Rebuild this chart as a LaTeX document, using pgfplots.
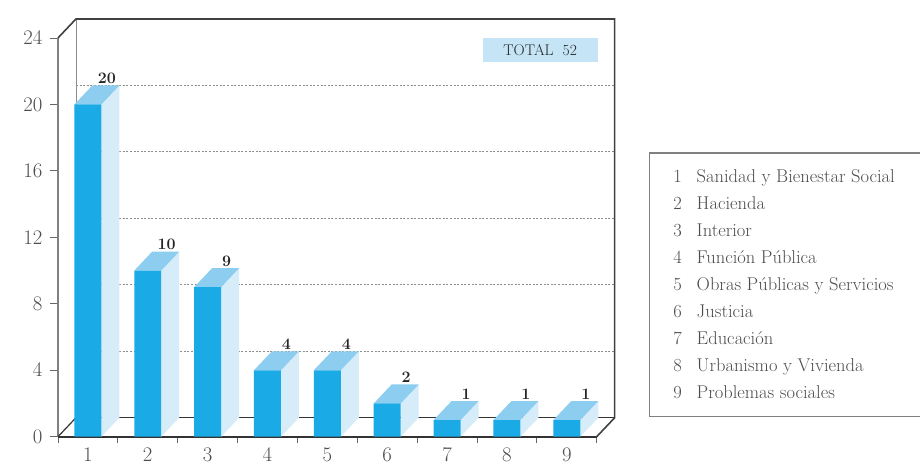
\documentclass[border=0pt]{standalone}
\usepackage{pgfplots}
\usepackage{pgfplotstable}
\pgfplotsset{compat=1.18}
\definecolor{frontc}{RGB}{26,170,230}
\definecolor{topc}{RGB}{140,205,240}
\definecolor{sidec}{RGB}{214,236,249}
\definecolor{totc}{RGB}{197,229,246}
\pgfplotstableread{
x v
1 20
2 10
3 9
4 4
5 4
6 2
7 1
8 1
9 1
}\datatable
\newcommand\legitem[3]{%
  \node[anchor=base, inner sep=0pt, font=\fontsize{18.5}{18.5}\selectfont, text=black!70] at (axis cs:10.851,#1) {#2};
  \node[anchor=base west, inner sep=0pt, font=\fontsize{18.5}{18.5}\selectfont, text=black!70] at (axis cs:11.168,#1) {#3};
}
\begin{document}
\begin{tikzpicture}
\begin{axis}[
  x=59.9pt, y=16.625pt,
  xmin=0.5, xmax=9.5, ymin=0, ymax=24,
  axis x line*=bottom, axis y line*=left,
  x axis line style={draw=black!80, line width=1.6pt},
  y axis line style={draw=black!50, line width=1.2pt},
  xtick={1,...,9}, minor xtick={0.5,1.5,...,9.5},
  major x tick style={draw=none},
  minor x tick style={draw=black!60, line width=0.8pt},
  ytick={0,4,...,24},
  y tick style={draw=black!60, line width=0.9pt},
  tick align=outside, major tick length=8pt, minor tick length=6pt,
  tick label style={font=\fontsize{20.5}{20.5}\selectfont, text=black!70},
  yticklabel style={xshift=-4pt},
  clip=false,
]
% bounding box of the whole picture
\path (axis cs:-0.4683,-1.744) rectangle (axis cs:14.907,26.286);
% back wall grid lines
\pgfplotsinvokeforeach{5.143,9.143,13.143,17.143,21.143}{
  \draw[black!45, dash pattern=on 2pt off 1.6pt, line width=0.9pt] (axis cs:0.8005,#1) -- (axis cs:9.8005,#1);
}
% floor back line and back-left edge
\draw[black!80, line width=1.4pt] (axis cs:0.8005,1.143) -- (axis cs:9.8005,1.143);
\draw[black!45, line width=0.8pt] (axis cs:0.8005,1.143) -- (axis cs:0.8005,25.143);
% frame of the box
\draw[black!75, line width=1.6pt] (axis cs:0.5,24) -- (axis cs:0.8005,25.143) -- (axis cs:9.8005,25.143) -- (axis cs:9.8005,1.143) -- (axis cs:9.5,0);
\draw[black!80, line width=1.2pt] (axis cs:0.5,0) -- (axis cs:0.8005,1.143);
% side and top faces of bars
\pgfplotsinvokeforeach{0,...,8}{
  \pgfplotstablegetelem{#1}{v}\of\datatable
  \let\val\pgfplotsretval
  \pgfmathsetmacro\xa{#1+1+0.2255}
  \pgfmathsetmacro\xb{#1+1+0.526}
  \pgfmathsetmacro\xc{#1+1-0.2255}
  \pgfmathsetmacro\xd{#1+1+0.075}
  \pgfmathsetmacro\yt{\val+1.143}
  \edef\temp{%
    \noexpand\fill[sidec] (axis cs:\xa,0) -- (axis cs:\xb,1.143) -- (axis cs:\xb,\yt) -- (axis cs:\xa,\val) -- cycle;
    \noexpand\fill[topc] (axis cs:\xc,\val) -- (axis cs:\xa,\val) -- (axis cs:\xb,\yt) -- (axis cs:\xd,\yt) -- cycle;
  }
  \temp
}
% front faces
\addplot[ybar, bar width=0.451, fill=frontc, draw=none,
  nodes near coords={\pgfmathprintnumber[assume math mode=true]{\pgfplotspointmeta}},
  nodes near coords style={font=\bfseries\fontsize{16}{16}\selectfont, text=black!85, xshift=19pt, yshift=19pt, inner sep=1.5pt}]
  table[x=x, y=v] {\datatable};
% TOTAL box
\node[fill=totc, minimum width=115pt, minimum height=24pt, inner sep=0pt,
  font=\fontsize{15.5}{15.5}\selectfont, text=black!85] at (axis cs:8.555,23.28) {TOTAL\hspace{9pt}52};
% legend
\draw[black!50, line width=1.3pt] (axis cs:14.907,17.083) -- (axis cs:10.383,17.083) -- (axis cs:10.383,1.203) -- (axis cs:14.907,1.203);
\legitem{15.278}{1}{Sanidad y Bienestar Social}
\legitem{13.654}{2}{Hacienda}
\legitem{12.030}{3}{Interior}
\legitem{10.406}{4}{Funci\'on P\'ublica}
\legitem{8.782}{5}{Obras P\'ublicas y Servicios}
\legitem{7.158}{6}{Justicia}
\legitem{5.534}{7}{Educaci\'on}
\legitem{3.910}{8}{Urbanismo y Vivienda}
\legitem{2.286}{9}{Problemas sociales}
\end{axis}
\end{tikzpicture}
\end{document}
